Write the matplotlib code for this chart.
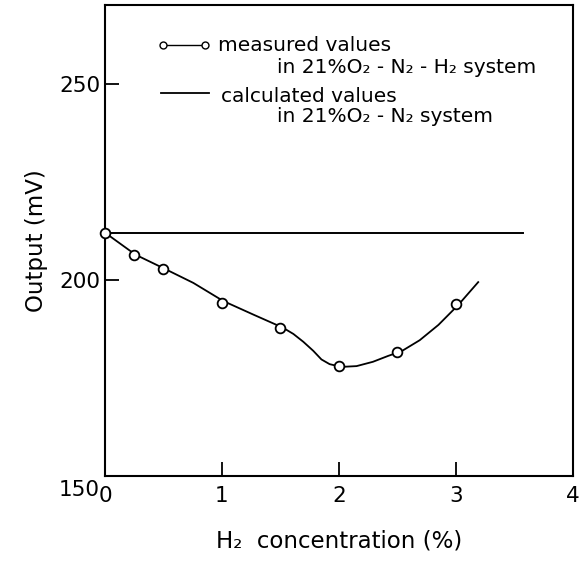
import numpy as np
import matplotlib
matplotlib.use('Agg')
import matplotlib.pyplot as plt
from matplotlib.transforms import ScaledTranslation

plt.rcParams['font.family'] = ['DejaVu Sans']

# measured points (H2 %, mV)
h2_meas = [0, 0.25, 0.5, 1.0, 1.5, 2.0, 2.5, 3.0]
out_meas = [212.0, 206.4, 202.8, 194.1, 187.8, 178.1, 181.6, 193.9]

h2_curve = [0, 0.26, 0.51, 0.755, 1.01, 1.27, 1.52, 1.61, 1.695, 1.78, 1.85, 1.92,
            2.02, 2.15, 2.29, 2.42, 2.535, 2.69, 2.85, 3.02, 3.19]
out_curve = [212.0, 206.4, 202.8, 199.2, 194.6, 191.1, 187.8, 186.2, 184.2, 181.9, 179.7, 178.5,
             177.8, 178.0, 179.1, 180.6, 181.8, 184.6, 188.5, 193.6, 199.4]

# calculated value (21%O2 - N2)
h2_calc = [0, 3.57]
out_calc = [212.0, 212.0]

xticks = [0, 1, 2, 3, 4]
yticks = [150, 200, 250]

fig = plt.figure(figsize=(5.82, 5.63), dpi=100)
ax = fig.add_axes([0.1804, 0.1545, 0.8041, 0.8366])

ax.plot(h2_calc, out_calc, color='black', lw=1.4)
ax.plot(h2_curve, out_curve, color='black', lw=1.3, solid_joinstyle='round')
ax.plot(h2_meas, out_meas, 'o', ms=7, mfc='white', mec='black', mew=1.3, clip_on=False, zorder=5)

ax.set_xlim(0, 4)
ax.set_ylim(150, 270)
ax.set_xticks(xticks)
ax.set_yticks(yticks)
ax.tick_params(direction='in', length=10, width=1.3, labelsize=15.5)
ax.tick_params(axis='x', pad=7)
for s in ax.spines.values():
    s.set_linewidth(1.5)

# the 150 label sits a little below its tick
lab150 = ax.get_yticklabels()[0]
lab150.set_transform(lab150.get_transform() + ScaledTranslation(0, -0.12, fig.dpi_scale_trans))

ax.set_xlabel('H₂  concentration (%)', fontsize=16.5, labelpad=17)
ax.set_ylabel('Output (mV)', fontsize=16.5, labelpad=8)

# legend drawn by hand
ax.plot([0.496, 0.855], [259.8, 259.8], color='black', lw=1.0)
ax.plot([0.496, 0.855], [259.8, 259.8], 'o', ms=5, mfc='white', mec='black', mew=1.0)
ax.plot([0.48, 0.89], [247.6, 247.6], color='black', lw=1.3)
ax.text(0.966, 259.6, 'measured values', fontsize=14.5, va='center')
ax.text(1.47, 254.2, 'in 21%O₂ - N₂ - H₂ system', fontsize=14.5, va='center')
ax.text(0.99, 246.6, 'calculated values', fontsize=14.5, va='center')
ax.text(1.47, 241.5, 'in 21%O₂ - N₂ system', fontsize=14.5, va='center')

fig.savefig('out.png', dpi=100)
